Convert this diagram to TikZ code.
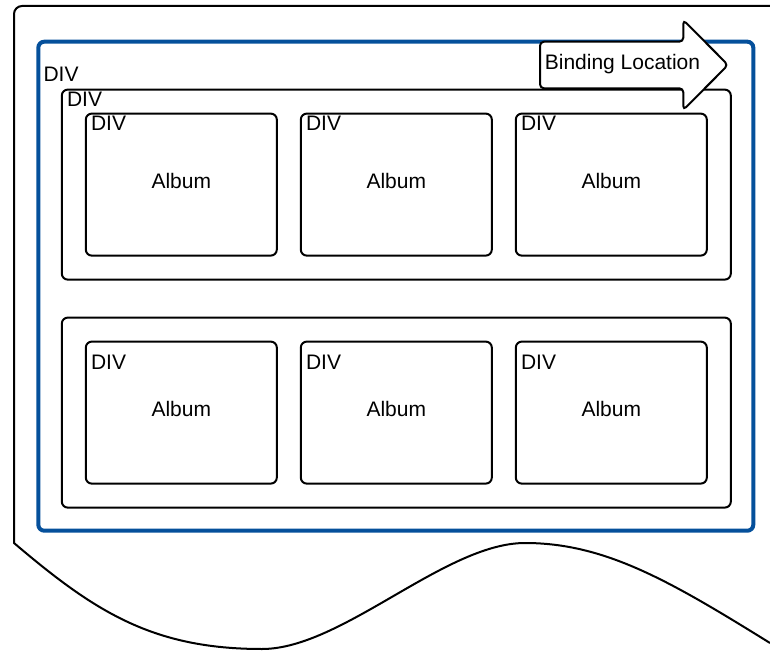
\documentclass[tikz,border=0pt]{standalone}
\usepackage{fontspec}
\setmainfont{Liberation Sans}
\usetikzlibrary{positioning, fit}
\definecolor{divblue}{RGB}{5,80,155}

\begin{document}
\begin{tikzpicture}[
      x=1pt,
      y=1pt,
      node distance=22pt,
      txt/.style={
          font=\fontsize{21}{25}\selectfont
        },
      divlabel/.style={
          txt,
          anchor=north west,
          inner sep=0pt
        },
      container/.style={
          rectangle,
          draw=divblue,
          line width=4pt,
          rounded corners=6pt,
          minimum width=715pt,
          minimum height=489pt
        },
      rowbox/.style={
          rectangle,
          draw,
          line width=2pt,
          rounded corners=6pt,
          inner sep=23pt
        },
      album/.style={
          rectangle,
          draw,
          line width=2pt,
          rounded corners=6pt,
          txt,
          minimum width=191pt,
          minimum height=142pt,
          text depth=8pt
        },
      bindarrow/.style={
          draw,
          fill=white,
          line width=2pt,
          rounded corners=4pt
        },
      page/.style={
          draw,
          line width=2pt
        }
    ]
    \useasboundingbox (0,0) rectangle (770,651);

    % Page
    \draw[page] (770,645) -- (22,645) arc (90:180:8) -- (14,108)
      .. controls (94,40) and (152,2) .. (262,2)
      .. controls (342,2) and (445,108) .. (525,108)
      .. controls (605,108) and (670,70) .. (770,8);

    % Outer container
    \node[container, anchor=north west, label={[divlabel, xshift=7pt, yshift=-27pt]north west:DIV}] (outer) at (36.3,611.3) {};

    % Albums
    \node[album, label={[divlabel, xshift=6pt, yshift=-3.5pt]north west:DIV}] (a11) at (181.3,466.4) {Album};
    \node[album, right=of a11, label={[divlabel, xshift=6pt, yshift=-3.5pt]north west:DIV}] (a12) {Album};
    \node[album, right=of a12, label={[divlabel, xshift=6pt, yshift=-3.5pt]north west:DIV}] (a13) {Album};
    \node[album, below=84pt of a11, label={[divlabel, xshift=6pt, yshift=-14pt]north west:DIV}] (a21) {Album};
    \node[album, right=of a21, label={[divlabel, xshift=6pt, yshift=-14pt]north west:DIV}] (a22) {Album};
    \node[album, right=of a22, label={[divlabel, xshift=6pt, yshift=-14pt]north west:DIV}] (a23) {Album};

    % Rows
    \node[rowbox, fit=(a11)(a13), label={[divlabel, xshift=6pt, yshift=-3.7pt]north west:DIV}] (row1) {};
    \node[rowbox, fit=(a21)(a23)] (row2) {};

    % Binding arrow
    \draw[bindarrow] (540,609.3) -- (683.3,609.3) -- (683.3,631) -- (728,586)
      -- (683.3,541) -- (683.3,562.7) -- (540,562.7) -- cycle;
    \node[txt, anchor=base] (bind) at (622.5,581) {Binding Location};
  \end{tikzpicture}
\end{document}
